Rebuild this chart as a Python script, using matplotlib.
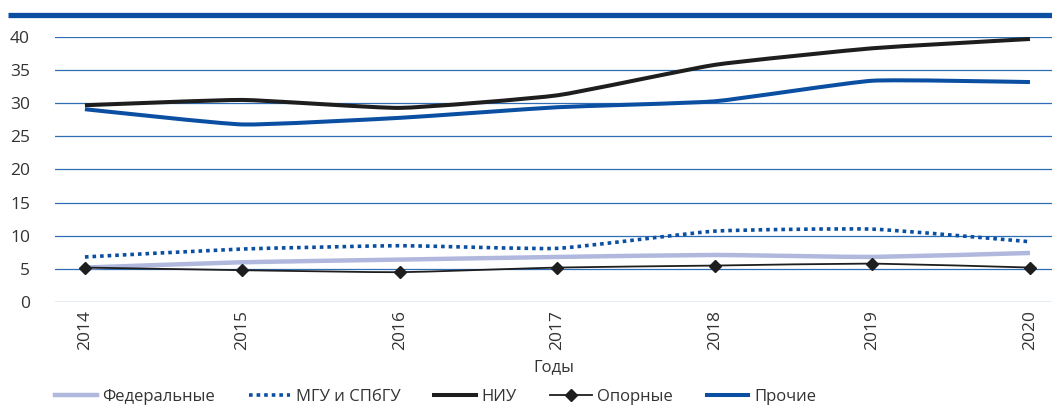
import numpy as np
import matplotlib
matplotlib.use("Agg")
import matplotlib.pyplot as plt
from matplotlib.path import Path
from matplotlib.patches import PathPatch
from matplotlib.lines import Line2D

plt.rcParams['font.family'] = ['Open Sans', 'DejaVu Sans']

years = [2014, 2015, 2016, 2017, 2018, 2019, 2020]
federal = [5.2, 6.0, 6.4, 6.8, 7.1, 6.8, 7.4]
msu_spbu = [6.8, 8.0, 8.5, 8.1, 10.7, 11.0, 9.1]
niu = [29.7, 30.5, 29.3, 31.2, 35.8, 38.3, 39.7]
oporn = [5.2, 4.8, 4.5, 5.2, 5.5, 5.8, 5.2]
other = [29.1, 26.8, 27.8, 29.4, 30.3, 33.4, 33.2]
yticks = [0, 5, 10, 15, 20, 25, 30, 35, 40]
xlabel = "Годы"
labels = ["Федеральные", "МГУ и СПбГУ", "НИУ", "Опорные", "Прочие"]

TEXT = "#333333"
GRID = "#2f6db5"
BLUE = "#0b4fa3"
LAV = "#b1b8dd"

fig = plt.figure(figsize=(10.52, 4.07), dpi=100)
ax = fig.add_axes([55/1052, 105/407, 1 - 55/1052, (302-37)/407])


def smooth_path(x, y, t=0.22):
    x = np.asarray(x, float); y = np.asarray(y, float)
    verts = [(x[0], y[0])]
    codes = [Path.MOVETO]
    n = len(x)
    for i in range(n - 1):
        p0 = (x[i-1], y[i-1]) if i > 0 else (x[i], y[i])
        p1 = (x[i], y[i]); p2 = (x[i+1], y[i+1])
        p3 = (x[i+2], y[i+2]) if i + 2 < n else (x[i+1], y[i+1])
        c1 = (p1[0] + (p2[0]-p0[0]) * t / 3, p1[1] + (p2[1]-p0[1]) * t / 3)
        c2 = (p2[0] - (p3[0]-p1[0]) * t / 3, p2[1] - (p3[1]-p1[1]) * t / 3)
        verts += [c1, c2, p2]
        codes += [Path.CURVE4] * 3
    return Path(verts, codes)


def draw(y, color, lw, ls='-', z=3, capstyle='butt'):
    p = PathPatch(smooth_path(years, y), facecolor='none', edgecolor=color,
                  lw=lw, ls=ls, zorder=z, transform=ax.transData,
                  capstyle=capstyle, joinstyle='round')
    ax.add_patch(p)

draw(federal, LAV, 3.2, z=3)
draw(msu_spbu, BLUE, 2.6, ls=(0, (1.0, 1.1)), z=4)
draw(niu, "#1e1e1e", 2.9, z=3)
draw(oporn, "#1e1e1e", 1.3, z=5)
ax.plot(years, oporn, ls='none', marker='D', ms=6.5, color="#1e1e1e", zorder=6)
draw(other, BLUE, 2.9, z=3)

ax.set_xlim(2013.81, 2020.14)
ax.set_ylim(0, 40)
ax.set_yticks(yticks)
ax.set_xticks(years)
ax.set_xticklabels([str(y) for y in years], rotation=90, fontsize=12.5, color=TEXT)
ax.set_yticklabels([str(v) for v in yticks], fontsize=12.5, color=TEXT)
ax.tick_params(axis='both', length=0)
ax.tick_params(axis='y', pad=18)
ax.tick_params(axis='x', pad=6)
for s in ax.spines.values():
    s.set_visible(False)
ax.grid(axis='y', color=GRID, lw=0.9, zorder=0)
ax.set_axisbelow(True)
ax.set_xlabel(xlabel, fontsize=12, color=TEXT, labelpad=6)

fig.add_artist(Line2D([8/1052, 1.0], [1 - 14.5/407]*2, transform=fig.transFigure,
                      color=BLUE, lw=3.8, solid_capstyle='butt'))

handles = [
    Line2D([], [], color=LAV, lw=3.2),
    Line2D([], [], color=BLUE, lw=2.6, ls=(0, (1.0, 1.1))),
    Line2D([], [], color="#1e1e1e", lw=2.9),
    Line2D([], [], color="#1e1e1e", lw=1.3, marker='D', ms=6.5),
    Line2D([], [], color=BLUE, lw=2.9),
]
leg = fig.legend(handles, labels, loc='center left', bbox_to_anchor=(55/1052, 1 - 397/407),
                 ncol=5, frameon=False, fontsize=12, handlelength=2.5, handletextpad=0.35,
                 columnspacing=2.0, labelcolor=TEXT, borderpad=0, borderaxespad=0)

fig.savefig("out.png", dpi=100)
